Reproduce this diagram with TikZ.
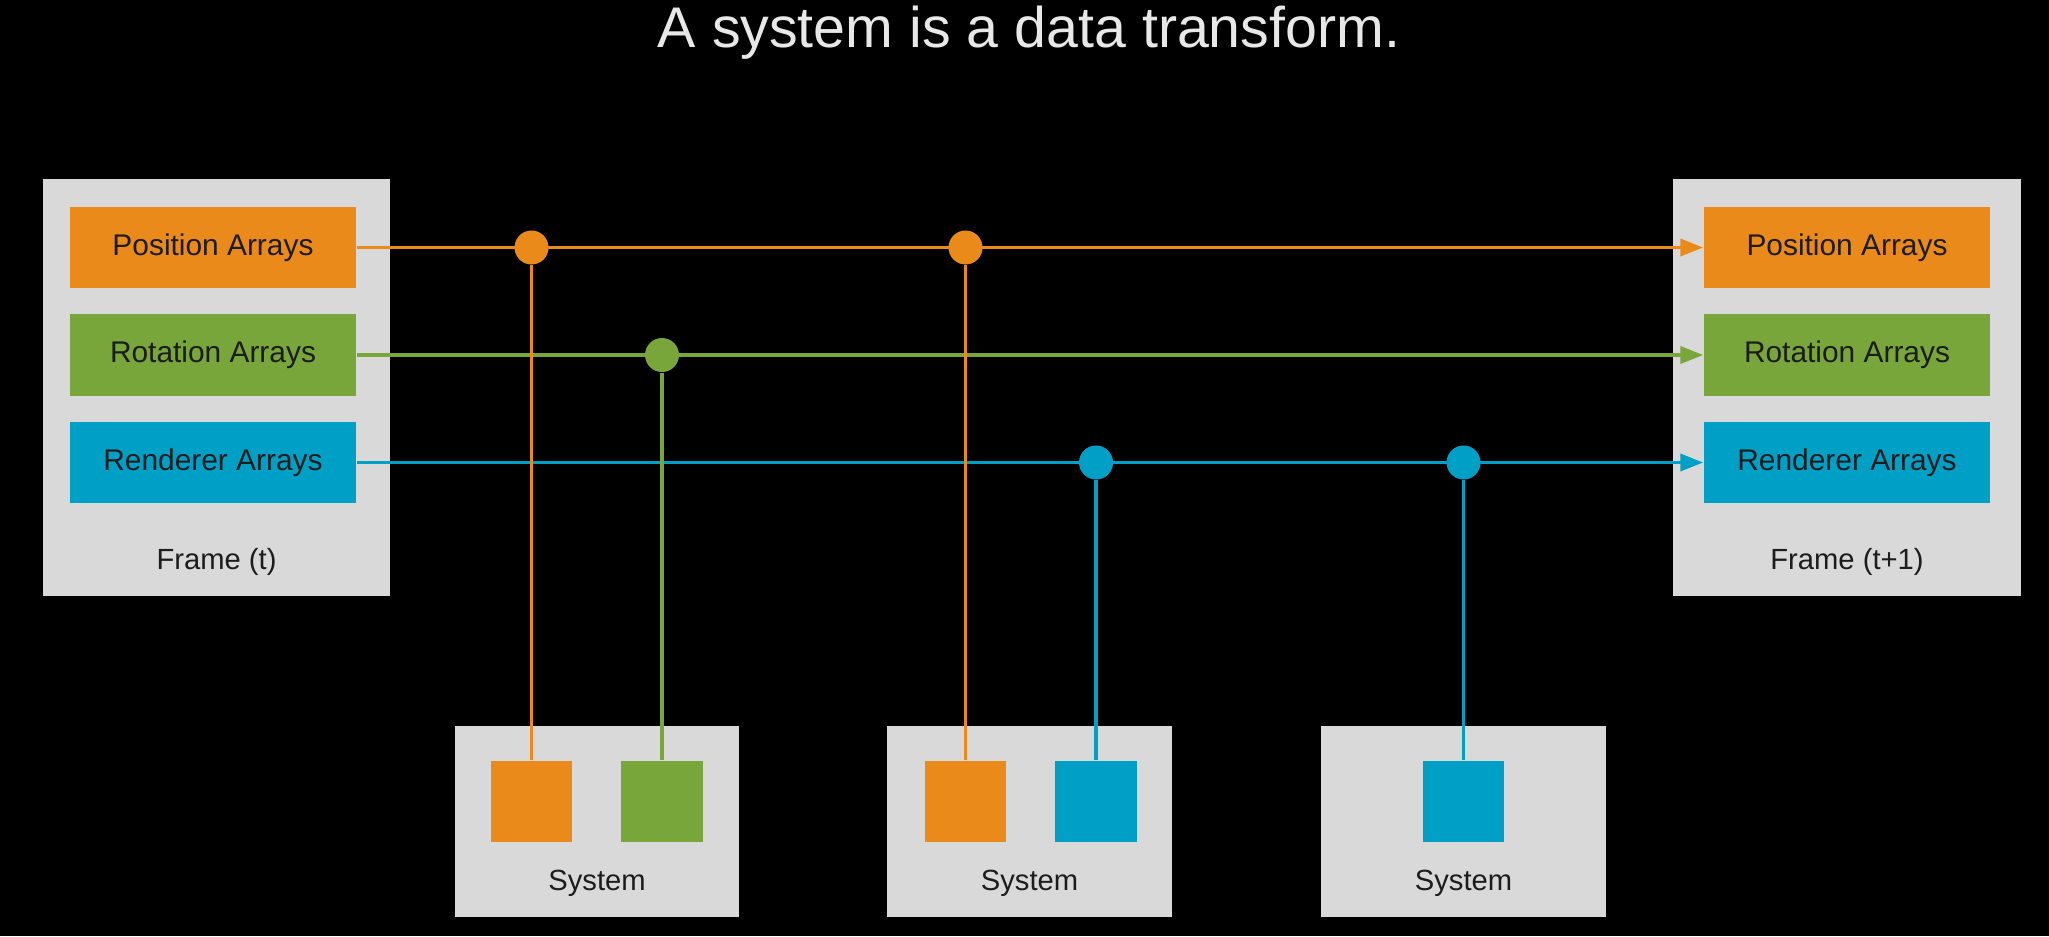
\documentclass[tikz,border=0pt]{standalone}
\usepackage{fontspec}
\setmainfont{Liberation Sans}
\usetikzlibrary{arrows.meta}

\definecolor{posorange}{RGB}{234,138,26}
\definecolor{rotgreen}{RGB}{121,166,58}
\definecolor{rendblue}{RGB}{0,160,198}
\definecolor{panelgray}{RGB}{217,217,217}
\definecolor{inktext}{RGB}{28,28,28}
\definecolor{titlegray}{RGB}{232,232,232}

\begin{document}
\begin{tikzpicture}[x=0.01cm,y=-0.01cm,
    framebox/.style={fill=panelgray,minimum width=3.47cm,minimum height=4.17cm,inner sep=0pt},
    arrays/.style={minimum width=2.86cm,minimum height=0.81cm,inner sep=0pt,text=inktext,font=\fontsize{8.5}{10}\selectfont},
    sysbox/.style={fill=panelgray,minimum width=2.84cm,minimum height=1.91cm,inner sep=0pt},
    slot/.style={minimum width=0.81cm,minimum height=0.81cm,inner sep=0pt},
    tap/.style={circle,minimum size=0.34cm,inner sep=0pt},
    caption/.style={anchor=base,text=inktext,font=\fontsize{8.3}{10}\selectfont},
    wire/.style={line width=1.1pt}]

    % background and page size
    \useasboundingbox (0,0) rectangle (2049,936);
    \fill[black] (0,0) rectangle (2049,936);

    \node[anchor=base,text=titlegray,font=\fontsize{16.3}{20}\selectfont] (title) at (1029,47) {A system is a data transform.};

    % the two frames
    \node[framebox] (frameT) at (216.5,387.5) {};
    \node[framebox] (frameTT) at (1847,387.5) {};
    \node[caption] (labelT) at (216.5,569) {Frame (t)};
    \node[caption] (labelTT) at (1847,569) {Frame (t+1)};

    \foreach \name/\col/\y/\txt in {pos/posorange/247.5/Position,rot/rotgreen/355/Rotation,ren/rendblue/462.5/Renderer} {
        \node[arrays,fill=\col] (\name0) at (213,\y) {\txt\ Arrays};
        \node[arrays,fill=\col] (\name1) at (1847,\y) {\txt\ Arrays};
        \draw[wire,draw=\col,-{Triangle[length=6.5pt,width=4.8pt]}] (\name0.east) -- (\name1.west);
    }

    % systems
    \node[sysbox] (sysA) at (597,821.5) {};
    \node[sysbox] (sysB) at (1029.5,821.5) {};
    \node[sysbox] (sysC) at (1463.5,821.5) {};
    \node[caption] at (597,890) {System};
    \node[caption] at (1029.5,890) {System};
    \node[caption] at (1463.5,890) {System};

    \node[slot,fill=posorange] (slotA1) at (531.5,801.5) {};
    \node[slot,fill=rotgreen] (slotA2) at (662,801.5) {};
    \node[slot,fill=posorange] (slotB1) at (965.5,801.5) {};
    \node[slot,fill=rendblue] (slotB2) at (1096,801.5) {};
    \node[slot,fill=rendblue] (slotC1) at (1463.5,801.5) {};

    % taps on the data lines
    \node[tap,fill=posorange] (tapA1) at (531.5,247.5) {};
    \node[tap,fill=rotgreen] (tapA2) at (662,355) {};
    \node[tap,fill=posorange] (tapB1) at (965.5,247.5) {};
    \node[tap,fill=rendblue] (tapB2) at (1096,462.5) {};
    \node[tap,fill=rendblue] (tapC1) at (1463.5,462.5) {};

    \draw[wire,draw=posorange] (tapA1.south) -- (slotA1.north);
    \draw[wire,draw=rotgreen] (tapA2.south) -- (slotA2.north);
    \draw[wire,draw=posorange] (tapB1.south) -- (slotB1.north);
    \draw[wire,draw=rendblue] (tapB2.south) -- (slotB2.north);
    \draw[wire,draw=rendblue] (tapC1.south) -- (slotC1.north);
\end{tikzpicture}
\end{document}
